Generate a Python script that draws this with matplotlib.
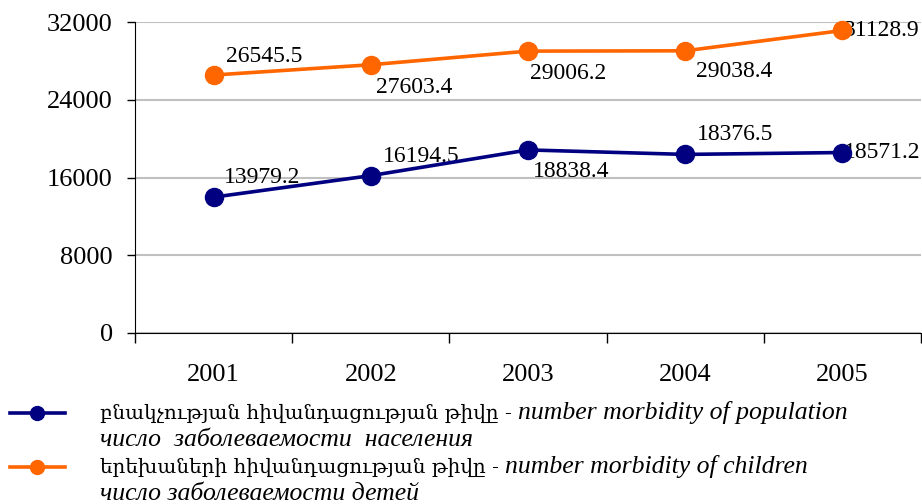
import numpy as np
import matplotlib
matplotlib.use('Agg')
import matplotlib.pyplot as plt

# данные
years = ['2001', '2002', '2003', '2004', '2005']
population = [13979.2, 16194.5, 18838.4, 18376.5, 18571.2]
children = [26545.5, 27603.4, 29006.2, 29038.4, 31128.9]
y_ticks = [0, 8000, 16000, 24000, 32000]

# подписи легенды
legend_arm = ['բնակչության հիվանդացության թիվը', 'երեխաների հիվանդացության թիվը']
legend_eng = ['number morbidity of population', 'number morbidity of children']
legend_rus = ['число  заболеваемости  населения', 'число заболеваемости детей']

blue = '#000080'
orange = '#ff6600'
serif = ['Liberation Serif', 'DejaVu Serif']

plt.rcParams['font.family'] = serif

fig = plt.figure(figsize=(9.22, 5.04), dpi=100)
ax = fig.add_axes([0.1464, 0.3393, 0.8526, 0.617])

x = np.arange(len(years))
ax.plot(x, population, color=blue, lw=2.6, marker='o', ms=13, zorder=5, clip_on=False)
ax.plot(x, children, color=orange, lw=2.6, marker='o', ms=13, zorder=5, clip_on=False)

# смещения подписей (в пикселях)
pop_off = [(10, 20), (12, 19), (5, -22), (12, 20), (1, 0)]
ch_off = [(12, 19), (5, -23), (2, -22), (11, -21), (1, 0)]
for i in range(len(years)):
    ax.annotate(f'{population[i]:.1f}', (x[i], population[i]), xytext=pop_off[i],
                textcoords='offset pixels', ha='left', va='center', fontsize=17, zorder=4)
    ax.annotate(f'{children[i]:.1f}', (x[i], children[i]), xytext=ch_off[i],
                textcoords='offset pixels', ha='left', va='center', fontsize=17, zorder=4)

ax.set_xlim(-0.5, 4.5)
ax.set_ylim(0, 32000)
ax.set_yticks(y_ticks)
ax.set_yticklabels([str(v) for v in y_ticks], fontsize=19)
ax.tick_params(axis='y', length=6, width=1, pad=10, direction='out')

ax.set_xticks(np.arange(-0.5, 5, 1))
ax.set_xticklabels([])
ax.tick_params(axis='x', which='major', length=7, width=1, direction='out')
ax.set_xticks(x, minor=True)
ax.set_xticklabels(years, minor=True, fontsize=19)
ax.tick_params(axis='x', which='minor', length=0, pad=22)

ax.grid(axis='y', color='#c0c0c0', lw=1.5)
ax.set_axisbelow(True)
for s in ['top', 'right']:
    ax.spines[s].set_visible(False)
ax.spines['left'].set_color('black')
ax.spines['bottom'].set_color('black')

# легенда внизу
fig.canvas.draw()
renderer = fig.canvas.get_renderer()
colors = [blue, orange]
rows_y = [413, 467]
H = 504
for k in range(2):
    yy = 1 - rows_y[k] / H
    fig.add_artist(plt.Line2D([10 / 922, 65 / 922], [yy, yy], color=colors[k], lw=2.6,
                              transform=fig.transFigure))
    fig.add_artist(plt.Line2D([37 / 922], [yy], color=colors[k], marker='o', ms=10,
                              transform=fig.transFigure))
    t1 = fig.text(100 / 922, yy, legend_arm[k] + ' - ', fontsize=14.4, va='center',
                  family=['DejaVu Serif'])
    bb = t1.get_window_extent(renderer)
    fig.text(bb.x1 / fig.bbox.width, yy, legend_eng[k], fontsize=18.5, va='center',
             style='italic')
    fig.text(100 / 922, 1 - (rows_y[k] + 27) / H, legend_rus[k], fontsize=18.5,
             va='center', style='italic')

fig.savefig('out.png', dpi=100)
